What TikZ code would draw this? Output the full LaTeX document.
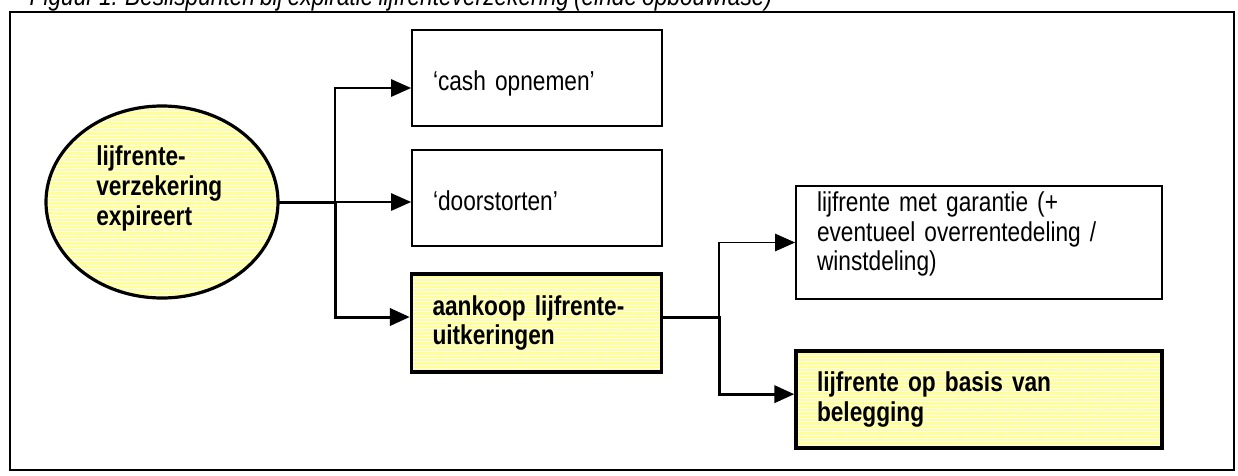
\documentclass[tikz,border=0pt]{standalone}
\usepackage{fontspec}
\setmainfont{Liberation Sans}[FakeStretch=0.83]
\usetikzlibrary{arrows.meta,positioning,shapes.geometric,patterns.meta}
\definecolor{lfyellow}{HTML}{FFFF99}
\newcommand{\narrowspace}{\spaceskip=3.8pt plus 1pt minus 0.5pt\relax}

\begin{document}
\begin{tikzpicture}[
            x=0.75pt, y=-0.75pt,
            font=\fontsize{20.5}{22}\selectfont\narrowspace,
            choice/.style={
                    draw, line width=1.3pt, fill=white,
                    align=left, inner xsep=15.75pt, inner ysep=0pt
                },
            pick/.style={
                    draw, line width=2.6pt,
                    preaction={fill=lfyellow},
                    pattern={Lines[angle=0, distance=2.5pt, line width=0.7pt]},
                    pattern color=white,
                    align=left, inner xsep=15.75pt, inner ysep=0pt,
                    font=\fontsize{20.5}{22}\selectfont\bfseries\narrowspace
                },
            start/.style={
                    ellipse, draw, line width=2.4pt, inner sep=0pt,
                    preaction={fill=lfyellow},
                    pattern={Lines[angle=0, distance=2.5pt, line width=0.7pt]},
                    pattern color=white,
                    minimum width=174pt, minimum height=144pt
                },
            oneline/.style={text height=22pt, text depth=4pt},
            thin/.style={-{Triangle[length=15pt, width=13pt]}, line width=1.25pt},
            thick/.style={-{Triangle[length=15pt, width=13pt]}, line width=2.25pt}
            ]
            \useasboundingbox (0,0) rectangle (1238,475);
            \clip (0,0) rectangle (1238,475);

            \node[anchor=base west, font=\fontsize{20.5}{22}\selectfont\itshape\narrowspace] (caption) at (25,5)
            {Figuur 1: Beslispunten bij expiratie lijfrenteverzekering (einde opbouwfase)};
            \draw[line width=1.7pt] (10,12) rectangle (1234,470);

            % links: de expiratie
            \node[start] (expire) at (162,202) {};
            \node[anchor=west, align=left, inner sep=0pt, font=\fontsize{20.5}{22.5}\selectfont\bfseries] (expiretext) at (96,188)
            {lijfrente-\\verzekering\\expireert};

            % midden: drie keuzes
            \node[choice, oneline, text width=156pt, minimum height=72pt] (cash) at (537,78)
            {‘cash opnemen’};
            \node[choice, oneline, text width=156pt, minimum height=72pt] (door) at (537,198)
            {‘doorstorten’};
            \node[pick, text width=156pt, minimum height=73.5pt] (buy) at (536.5,323)
            {aankoop lijfrente-\\uitkeringen};

            % rechts: soorten uitkering
            \node[choice, text width=243pt, minimum height=84.75pt] (guarantee) at (979,242.5)
            {lijfrente met garantie (+\\eventueel overrentedeling /\\winstdeling)\\[-5pt]\mbox{}};
            \node[pick, text width=243pt, minimum height=72.75pt] (invest) at (979,399.5)
            {lijfrente op basis van\\belegging};

            \coordinate (fork1) at (335,202);
            \coordinate (fork2) at (719,317);

            \draw[thick] (expire.east) -- (fork1) |- ([yshift=4.5pt]buy.west);
            \draw[thin] (fork1) |- ([yshift=-7.5pt]cash.west);
            \draw[thin] (fork1) |- ([yshift=-3pt]door.west);
            \draw[thick] ([yshift=4.5pt]buy.east) -- (fork2) |- ([yshift=4pt]invest.west);
            \draw[thin] (fork2) |- (guarantee.west);
        \end{tikzpicture}
\end{document}
